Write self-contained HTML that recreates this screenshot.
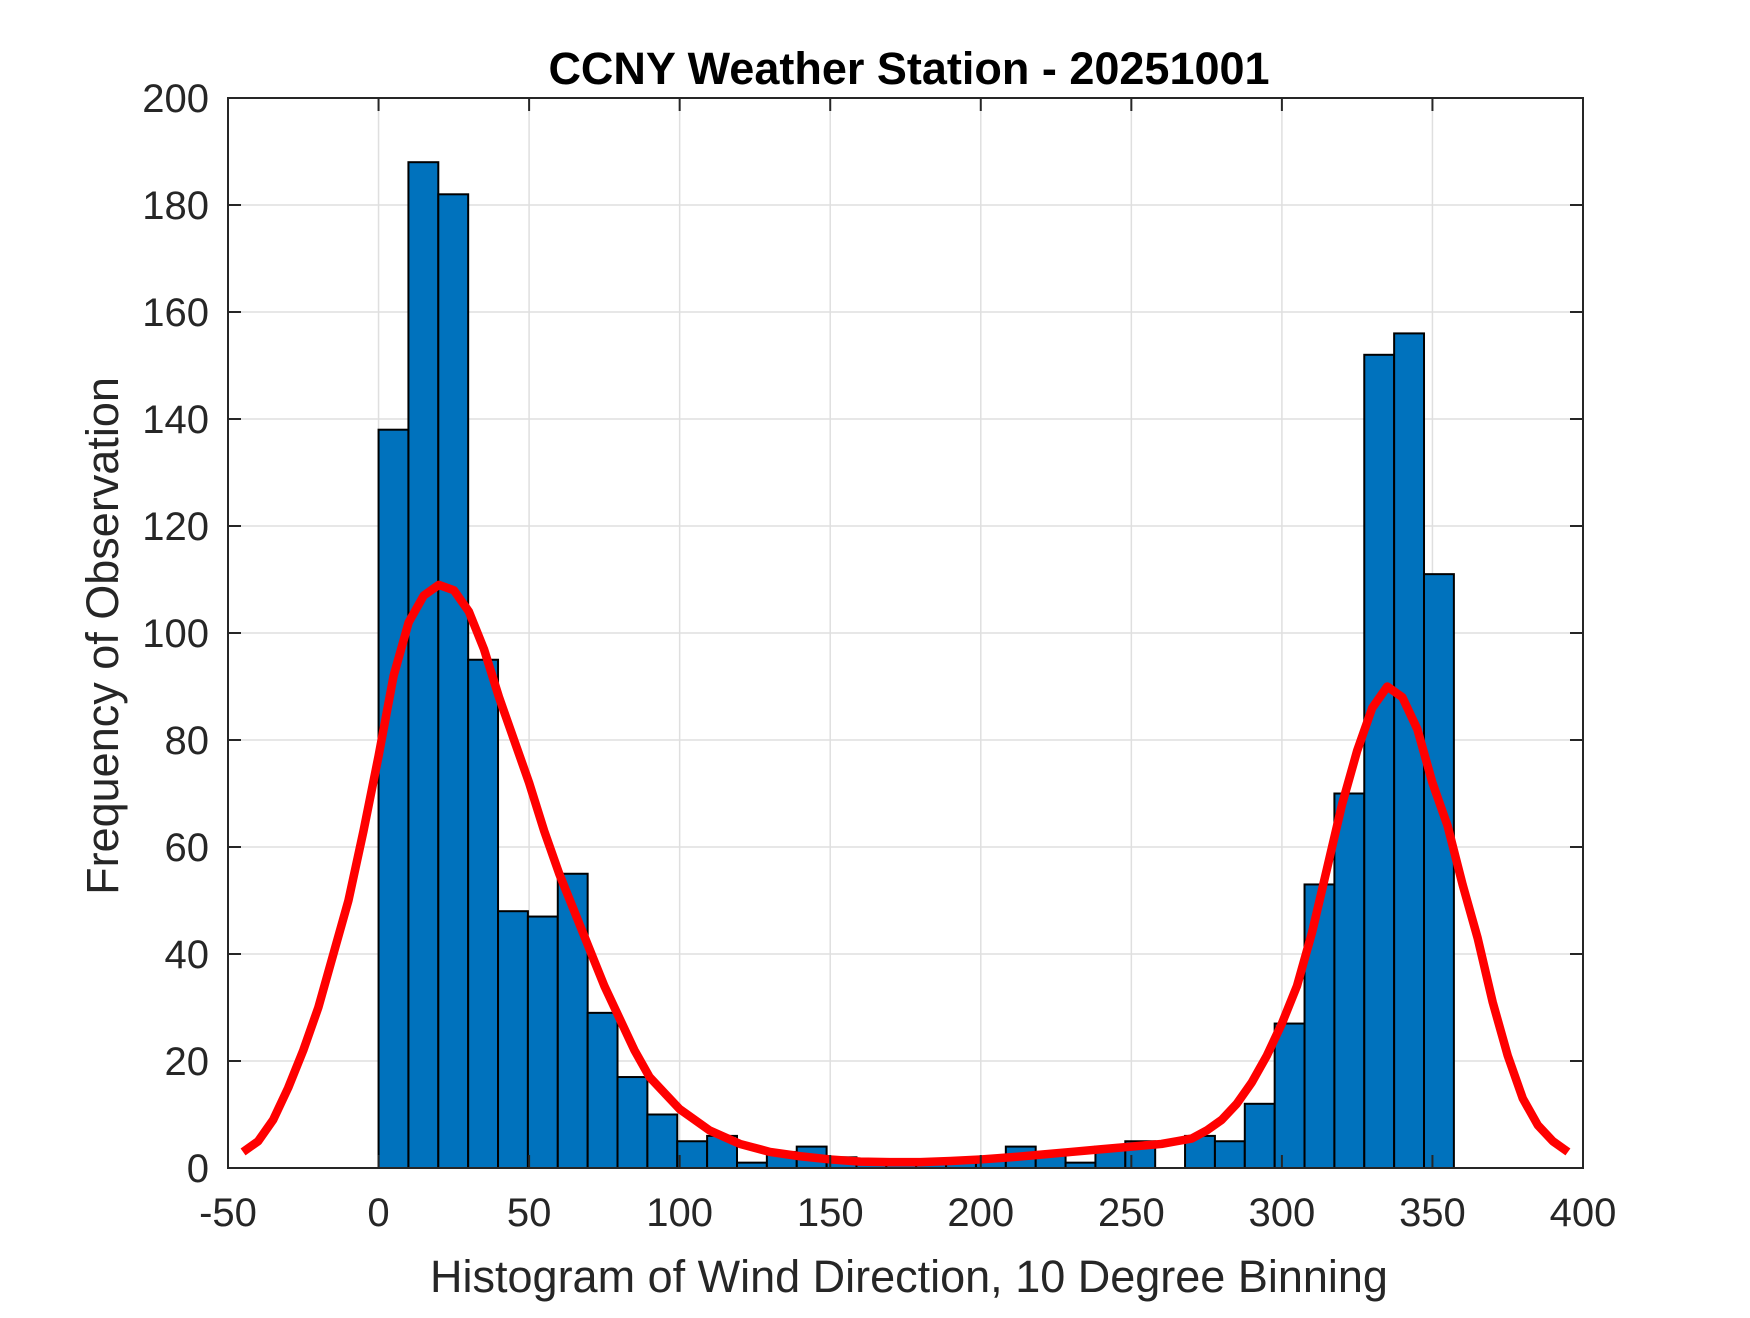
<!DOCTYPE html>
<html><head><meta charset="utf-8"><style>
html,body{margin:0;padding:0;background:#fff;}
svg text{font-family:"Liberation Sans",Arial,sans-serif;fill:#262626;}
</style></head><body>
<svg id="chart" width="1750" height="1313" viewBox="0 0 1750 1313" xmlns="http://www.w3.org/2000/svg">
<rect width="1750" height="1313" fill="#fff"/>
<g id="grid"></g>
<g id="bars"></g>
<g id="curve"></g>
<g id="axes"></g>
<text x="909" y="84" text-anchor="middle" font-size="45" font-weight="bold" style="fill:#000">CCNY Weather Station - 20251001</text>
<text x="909" y="1292" text-anchor="middle" font-size="45">Histogram of Wind Direction, 10 Degree Binning</text>
<text transform="translate(118,636) rotate(-90)" text-anchor="middle" font-size="45">Frequency of Observation</text>
</svg>
<script>
const binStart = 0;
const binWidth = 9.92;
const counts = [138,188,182,95,48,47,55,29,17,10,5,6,1,3,4,2,1,1,1,1,2,4,3,1,4,5,0,6,5,12,27,53,70,152,156,111];
const curveX = [-45,-40,-35,-30,-25,-20,-15,-10,-5,0,5,10,15,20,25,30,35,40,45,50,55,60,65,70,75,80,85,90,95,100,110,120,130,140,150,160,170,180,190,200,210,220,230,240,250,260,265,270,275,280,285,290,295,300,305,310,315,320,325,330,335,340,345,350,355,360,365,370,375,380,385,390,395,400];
const curveY = [3,5,9,15,22,30,40,50,63,77,92,102,107,109,108,104,97,88,80,72,63,55,48,41,34,28,22,17,14,11,7,4.5,3,2.2,1.6,1.2,1.1,1.1,1.3,1.6,2,2.5,3,3.5,4,4.5,5,5.5,7,9,12,16,21,27,34,44,56,68,78,86,90,88,82,72,64,53,43,31,21,13,8,5,3];
const xTicks = [-50,0,50,100,150,200,250,300,350,400];
const yTicks = [0,20,40,60,80,100,120,140,160,180,200];

const L=228,R=1583,T=98,B=1168;
const xMin=-50,xMax=400,yMin=0,yMax=200;
const sx=v=>L+(v-xMin)/(xMax-xMin)*(R-L);
const sy=v=>B-(v-yMin)/(yMax-yMin)*(B-T);
const NS='http://www.w3.org/2000/svg';
function mk(tag,attrs,parent){const e=document.createElementNS(NS,tag);for(const k in attrs)e.setAttribute(k,attrs[k]);parent.appendChild(e);return e;}
const grid=document.getElementById('grid'),bars=document.getElementById('bars'),curve=document.getElementById('curve'),axes=document.getElementById('axes');

xTicks.forEach(t=>{
  const g=mk('line',{x1:sx(t),x2:sx(t),y1:T,y2:B,stroke:'#dfdfdf','stroke-width':1.5},grid);
  
  
});
yTicks.forEach(t=>{
  const g=mk('line',{x1:L,x2:R,y1:sy(t),y2:sy(t),stroke:'#dfdfdf','stroke-width':1.5},grid);
  
  
});

counts.forEach((c,i)=>{
  const x0=sx(binStart+i*binWidth),x1=sx(binStart+(i+1)*binWidth);
  const r=mk('rect',{x:x0,y:sy(c),width:x1-x0,height:sy(0)-sy(c),fill:'#0072bd',stroke:'#000','stroke-width':2},bars);
  
  
});

const pts=curveX.map((x,i)=>sx(x)+','+sy(curveY[i])).join(' ');
const pl=mk('polyline',{points:pts,fill:'none',stroke:'#ff0000','stroke-width':8.5,'stroke-linejoin':'round','stroke-linecap':'butt'},curve);



const box=mk('rect',{x:L,y:T,width:R-L,height:B-T,fill:'none',stroke:'#262626','stroke-width':2},axes);


xTicks.forEach(t=>{
  mk('line',{x1:sx(t),x2:sx(t),y1:B,y2:B-13,stroke:'#262626','stroke-width':2},axes);
  mk('line',{x1:sx(t),x2:sx(t),y1:T,y2:T+13,stroke:'#262626','stroke-width':2},axes);
  const tx=mk('text',{x:sx(t),y:1226,'text-anchor':'middle','font-size':40},axes);
  tx.textContent=t;
  
  
});
yTicks.forEach(t=>{
  mk('line',{x1:L,x2:L+13,y1:sy(t),y2:sy(t),stroke:'#262626','stroke-width':2},axes);
  mk('line',{x1:R,x2:R-13,y1:sy(t),y2:sy(t),stroke:'#262626','stroke-width':2},axes);
  const tx=mk('text',{x:209,y:sy(t)+14,'text-anchor':'end','font-size':40},axes);
  tx.textContent=t;
  
  
});
</script>
</body></html>
